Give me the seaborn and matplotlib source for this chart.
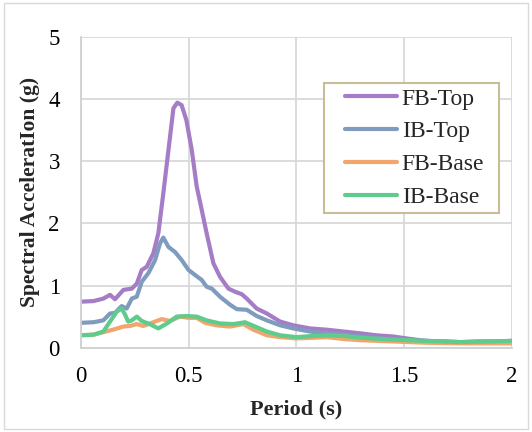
import numpy as np
import pandas as pd
import matplotlib
matplotlib.use("Agg")
import matplotlib.pyplot as plt
from matplotlib.patches import Rectangle
import seaborn as sns

# Response spectra: period (s) and spectral acceleration (g) for each case
fb_top_t = [0.0, 0.06, 0.105, 0.136, 0.159, 0.198, 0.237, 0.26, 0.283, 0.306, 0.337, 0.36,
            0.383, 0.407, 0.43, 0.448, 0.468, 0.49, 0.515, 0.538, 0.553, 0.584, 0.615,
            0.646, 0.685, 0.716, 0.747, 0.77, 0.816, 0.863, 0.925, 0.986, 1.064, 1.14,
            1.22, 1.30, 1.37, 1.45, 1.53, 1.60, 1.68, 1.76, 1.84, 1.91, 2.0]
fb_top_sa = [0.74, 0.75, 0.79, 0.85, 0.78, 0.93, 0.95, 1.03, 1.25, 1.30, 1.52, 1.84,
             2.48, 3.18, 3.85, 3.94, 3.90, 3.66, 3.18, 2.59, 2.35, 1.84, 1.36,
             1.14, 0.95, 0.90, 0.86, 0.79, 0.63, 0.55, 0.42, 0.36, 0.31, 0.29,
             0.26, 0.23, 0.20, 0.18, 0.14, 0.11, 0.10, 0.09, 0.10, 0.10, 0.11]

ib_top_t = [0.0, 0.06, 0.105, 0.136, 0.159, 0.19, 0.213, 0.237, 0.26, 0.283, 0.314, 0.345,
            0.368, 0.383, 0.407, 0.437, 0.468, 0.50, 0.53, 0.561, 0.584, 0.608, 0.646,
            0.693, 0.724, 0.77, 0.816, 0.863, 0.925, 0.986, 1.064, 1.14, 1.22, 1.30,
            1.45, 1.60, 1.76, 2.0]
ib_top_sa = [0.40, 0.41, 0.44, 0.55, 0.56, 0.67, 0.63, 0.79, 0.82, 1.06, 1.20, 1.41,
             1.68, 1.77, 1.62, 1.54, 1.41, 1.25, 1.17, 1.09, 0.98, 0.95, 0.82,
             0.69, 0.62, 0.61, 0.51, 0.44, 0.36, 0.31, 0.26, 0.23, 0.20, 0.18,
             0.13, 0.11, 0.09, 0.10]

fb_base_t = [0.0, 0.06, 0.105, 0.15, 0.198, 0.229, 0.26, 0.29, 0.337, 0.376, 0.414, 0.46,
             0.50, 0.538, 0.577, 0.63, 0.693, 0.754, 0.80, 0.863, 0.925, 1.0, 1.08,
             1.14, 1.22, 1.30, 1.45, 1.60, 1.76, 2.0]
fb_base_sa = [0.20, 0.21, 0.25, 0.29, 0.34, 0.35, 0.38, 0.35, 0.41, 0.46, 0.43, 0.50,
              0.48, 0.48, 0.40, 0.36, 0.34, 0.38, 0.29, 0.20, 0.17, 0.15, 0.16,
              0.17, 0.14, 0.12, 0.10, 0.08, 0.07, 0.07]

ib_base_t = [0.0, 0.06, 0.105, 0.136, 0.167, 0.19, 0.206, 0.22, 0.237, 0.26, 0.283, 0.32,
             0.36, 0.40, 0.445, 0.49, 0.538, 0.584, 0.646, 0.708, 0.762, 0.816, 0.863,
             0.925, 1.0, 1.08, 1.14, 1.22, 1.30, 1.45, 1.60, 1.76, 2.0]
ib_base_sa = [0.20, 0.21, 0.26, 0.42, 0.58, 0.63, 0.53, 0.42, 0.44, 0.50, 0.43, 0.38,
              0.31, 0.39, 0.50, 0.51, 0.50, 0.44, 0.39, 0.38, 0.41, 0.33, 0.26,
              0.20, 0.17, 0.19, 0.20, 0.19, 0.16, 0.13, 0.11, 0.09, 0.11]

series_names = ["FB-Top", "IB-Top", "FB-Base", "IB-Base"]
series_colors = ["#A57DC6", "#7F9BBE", "#F2A56C", "#5ECC8C"]

frames = []
for name, t, sa in zip(series_names,
                       [fb_top_t, ib_top_t, fb_base_t, ib_base_t],
                       [fb_top_sa, ib_top_sa, fb_base_sa, ib_base_sa]):
    frames.append(pd.DataFrame({"Period": t, "SA": sa, "Case": name}))
df = pd.concat(frames, ignore_index=True)

sns.set_style("white")
plt.rcParams["font.family"] = ["Liberation Serif", "DejaVu Serif"]

W, H = 532, 432
fig = plt.figure(figsize=(W / 100, H / 100), dpi=100)
ax = fig.add_axes([0.1517, 0.1951, 0.8107, 0.7199])

sns.lineplot(data=df, x="Period", y="SA", hue="Case", hue_order=series_names,
             palette=series_colors, linewidth=3.0, sort=False, estimator=None,
             ax=ax, legend=True)
for ln in ax.get_lines():
    ln.set_solid_capstyle("round")
    ln.set_solid_joinstyle("round")

ax.set_xlim(0, 2)
ax.set_ylim(0, 5)
ax.set_xticks([0, 0.5, 1, 1.5, 2])
ax.set_xticklabels(["0", "0.5", "1", "1.5", "2"])
ax.set_yticks([0, 1, 2, 3, 4, 5])
ax.grid(True, color="#D9D9D9", linewidth=1.3)
ax.set_axisbelow(True)
for side in ["top", "right"]:
    ax.spines[side].set_visible(False)
for side in ["left", "bottom"]:
    ax.spines[side].set_color("#D0D0D0")
    ax.spines[side].set_linewidth(1.3)
ax.tick_params(axis="both", length=0, labelsize=16.5, colors="black")
ax.tick_params(axis="x", pad=13)
ax.tick_params(axis="y", pad=15)

ax.set_xlabel("Period (s)", fontsize=16, fontweight="bold", labelpad=9)
ax.set_ylabel("Spectral AcceleratIon (g)", fontsize=15.5, fontweight="bold", labelpad=6)

# legend entries without their own frame; the box is drawn separately
px_to_axes = ax.transAxes.inverted()
lx, ly = px_to_axes.transform((345, H - 88))
leg = ax.legend(loc="upper left", bbox_to_anchor=(lx, ly), fontsize=17,
                frameon=False, handlelength=2.2, handletextpad=0.2,
                labelspacing=0.48, borderpad=0, borderaxespad=0)
for h in leg.get_lines():
    h.set_linewidth(3.0)
    h.set_solid_capstyle("round")

box = Rectangle((324 / W, 1 - 213 / H), (499 - 324) / W, (213 - 83) / H,
                transform=fig.transFigure, facecolor="white", edgecolor="#C8BE96",
                linewidth=1.5, zorder=4)
ax.add_artist(box)
box.set_clip_on(False)
leg.set_zorder(5)

# light outer frame around the whole figure
fig.patches.append(Rectangle((0.008, 0.008), 0.984, 0.984, transform=fig.transFigure,
                             fill=False, edgecolor="#D9D9D9", linewidth=1.0))

fig.savefig("out.png", dpi=100)
